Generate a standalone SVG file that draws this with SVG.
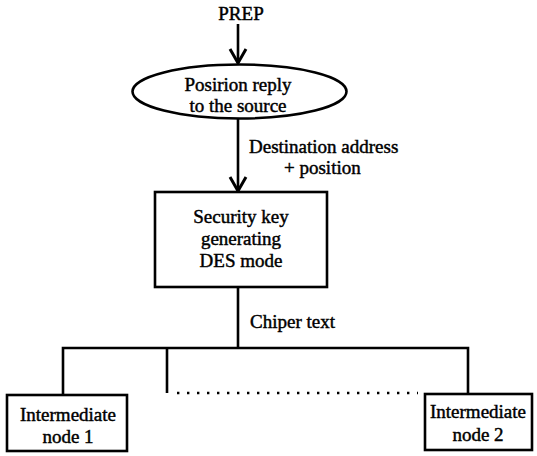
<svg xmlns="http://www.w3.org/2000/svg" width="537" height="456" viewBox="0 0 537 456">
<style>
.t{font-size:19px;fill:#000;stroke:#000;stroke-width:0.45px}
.c{text-anchor:middle}
.shape{fill:#fff;stroke:#000;stroke-width:2.6}
.ln{fill:none;stroke:#000;stroke-width:2.6}
.dot{fill:none;stroke:#000;stroke-width:2.4;stroke-dasharray:2.4 7.6}
</style>
<defs>
<marker id="ah" markerUnits="userSpaceOnUse" markerWidth="20" markerHeight="22" viewBox="-17 -11 20 22" refX="0" refY="0" orient="auto">
<path d="M-14,-8 L0,0 L-14,8" fill="none" stroke="#000" stroke-width="3"/>
</marker>
</defs>
<g font-family="Liberation Serif, Times New Roman, serif">
<g id="connectors">
<line class="ln" x1="238" y1="24" x2="238" y2="63" marker-end="url(#ah)"/>
<line class="ln" x1="238" y1="119" x2="238" y2="191" marker-end="url(#ah)"/>
<polyline class="ln" points="238,288 238,348"/>
<polyline class="ln" points="63,395 63,348 468,348 468,394"/>
<line class="ln" x1="167" y1="348" x2="167" y2="393"/>
<line class="dot" x1="177" y1="393" x2="418" y2="393"/>
<text class="t" x="249" y="153">Destination address</text>
<text class="t" x="284" y="174">+ position</text>
<text class="t" x="250" y="328">Chiper text</text>
</g>
<g id="prep">
<text class="t c" x="241" y="20">PREP</text>
</g>
<g id="position-reply">
<ellipse class="shape" cx="239.5" cy="91.5" rx="107" ry="27"/>
<text class="t c" x="238" y="91">Posirion reply</text>
<text class="t c" x="238" y="112">to the source</text>
</g>
<g id="security-key">
<rect class="shape" x="155" y="192" width="172" height="95"/>
<text class="t c" x="241" y="223">Security key</text>
<text class="t c" x="241" y="245">generating</text>
<text class="t c" x="241" y="267">DES mode</text>
</g>
<g id="intermediate-1">
<rect class="shape" x="7" y="395" width="120" height="56"/>
<text class="t c" x="68" y="421">Intermediate</text>
<text class="t c" x="68" y="443">node 1</text>
</g>
<g id="intermediate-2">
<rect class="shape" x="425" y="394" width="107" height="56"/>
<text class="t c" x="478" y="418">Intermediate</text>
<text class="t c" x="478" y="441">node 2</text>
</g>
</g>
</svg>
